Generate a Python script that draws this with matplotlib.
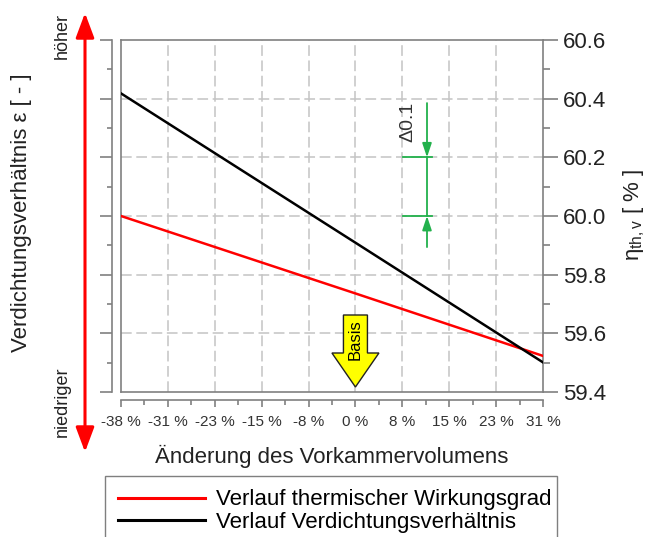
import numpy as np
import matplotlib
matplotlib.use("Agg")
import matplotlib.pyplot as plt
from matplotlib.patches import Polygon
from matplotlib import transforms
from matplotlib.ticker import MultipleLocator, FixedLocator, FormatStrFormatter

plt.rcParams['font.family'] = ['Liberation Sans', 'DejaVu Sans']
plt.rcParams['mathtext.fontset'] = 'custom'
plt.rcParams['mathtext.rm'] = 'Liberation Sans'
plt.rcParams['mathtext.it'] = 'Liberation Sans:italic'

# x axis: change of pre-chamber volume [%]
vol_ticks = [-38.46, -30.77, -23.08, -15.38, -7.69, 0.0, 7.69, 15.38, 23.08, 30.77]
vol_labels = ['-38 %', '-31 %', '-23 %', '-15 %', '-8 %', '0 %', '8 %', '15 %', '23 %', '31 %']

# series (sampled points)
vol_points = [-38.46, 0.0, 30.77]
eta_thermal = [60.00, 59.736, 59.523]      # thermal efficiency [%]
compression = [60.418, 59.909, 59.501]     # compression ratio trend (scaled to right axis)

series_labels = ['Verlauf thermischer Wirkungsgrad', 'Verlauf Verdichtungsverhältnis']

W, H = 648, 537
fig = plt.figure(figsize=(W / 100, H / 100), dpi=100)
rect = [121 / W, 1 - 392 / H, 422 / W, 352 / H]
ax = fig.add_axes(rect)

spine_c = '#808080'
text_c = '#222222'
grid_c = '#c4c4c4'

ax.set_xlim(vol_ticks[0], vol_ticks[-1])
ax.set_ylim(59.4, 60.6)

# grid
for xv in vol_ticks[1:-1]:
    ax.axvline(xv, color=grid_c, lw=1.1, dashes=(7, 3), zorder=1)
for yv in np.arange(59.6, 60.5, 0.2):
    ax.axhline(yv, color=grid_c, lw=1.1, dashes=(7, 3), zorder=1)

l1, = ax.plot(vol_points, eta_thermal, color='#ff0000', lw=1.8, zorder=3)
l2, = ax.plot(vol_points, compression, color='#000000', lw=1.8, zorder=3)

for s in ax.spines.values():
    s.set_color(spine_c)
    s.set_linewidth(1.2)

ax.yaxis.tick_right()
ax.yaxis.set_major_locator(MultipleLocator(0.2))
ax.yaxis.set_minor_locator(MultipleLocator(0.1))
ax.yaxis.set_major_formatter(FormatStrFormatter('%.1f'))
ax.tick_params(axis='y', which='major', direction='out', length=10.8, width=1.2,
               color=spine_c, labelsize=16, labelcolor=text_c, pad=3.5,
               left=False, right=True, labelleft=False, labelright=True)
ax.tick_params(axis='y', which='minor', direction='out', length=5, width=1.2,
               color=spine_c, left=False, right=True)
ax.tick_params(axis='x', which='both', bottom=False, labelbottom=False)

# detached left and bottom axes
ax2 = fig.add_axes(rect)
ax2.patch.set_visible(False)
ax2.set_xlim(vol_ticks[0], vol_ticks[-1])
ax2.set_ylim(59.4, 60.6)
ax2.spines['top'].set_visible(False)
ax2.spines['right'].set_visible(False)
ax2.spines['left'].set_position(('outward', 6.5))
ax2.spines['bottom'].set_position(('outward', 5.8))
for s in ('left', 'bottom'):
    ax2.spines[s].set_color(spine_c)
    ax2.spines[s].set_linewidth(1.2)
ax2.yaxis.set_major_locator(MultipleLocator(0.2))
ax2.yaxis.set_minor_locator(MultipleLocator(0.1))
ax2.tick_params(axis='y', which='major', direction='out', length=8.6, width=1.2,
                color=spine_c, labelleft=False)
ax2.tick_params(axis='y', which='minor', direction='out', length=3.6, width=1.2,
                color=spine_c)
ax2.xaxis.set_major_locator(FixedLocator(vol_ticks))
minor_x = [(a + b) / 2 for a, b in zip(vol_ticks[:-1], vol_ticks[1:])]
ax2.xaxis.set_minor_locator(FixedLocator(minor_x))
ax2.set_xticklabels(vol_labels, fontsize=11, color='#333333')
ax2.tick_params(axis='x', which='major', direction='out', length=5, width=1.2,
                color=spine_c, pad=6)
ax2.tick_params(axis='x', which='minor', direction='out', length=3.6, width=1.2,
                color=spine_c)

# axis titles
fig.text(22 / W, 1 - 213 / H, 'Verdichtungsverhältnis ε [ - ]', rotation=90,
         ha='center', va='center', fontsize=16, color=text_c)
fig.text(332 / W, 1 - 456 / H, 'Änderung des Vorkammervolumens',
         ha='center', va='center', fontsize=16, color=text_c)
fig.text(634 / W, 1 - 215 / H, r'$\mathregular{\eta_{th,v}}$ [ % ]', rotation=90,
         ha='center', va='center', fontsize=16, color=text_c)

# qualitative direction arrow for the compression ratio
ax.annotate('', xy=(85 / W, 1 - 13 / H), xytext=(85 / W, 1 - 452 / H),
            xycoords='figure fraction', textcoords='figure fraction',
            arrowprops=dict(arrowstyle='<|-|>,head_length=0.75,head_width=0.28',
                            color='#ff0000', lw=2.2, shrinkA=0, shrinkB=0,
                            mutation_scale=20), annotation_clip=False)
fig.text(62 / W, 1 - 36 / H, 'höher', rotation=90, ha='center', va='center',
         fontsize=13, color=text_c)
fig.text(62 / W, 1 - 402 / H, 'niedriger', rotation=90, ha='center', va='center',
         fontsize=13, color=text_c)

# reference marker at 0 % volume change
base_x = vol_ticks[5]
anchor = transforms.blended_transform_factory(ax.transData, ax.transAxes)
arrow_tf = fig.dpi_scale_trans + transforms.ScaledTranslation(base_x, 0, anchor)
arrow_pts = [(0, 0.05), (0.235, 0.39), (0.12, 0.39), (0.12, 0.77),
             (-0.12, 0.77), (-0.12, 0.39), (-0.235, 0.39)]
ax.add_patch(Polygon(arrow_pts, closed=True, transform=arrow_tf, facecolor='#ffff00',
                     edgecolor='#222222', lw=1.0, zorder=5, clip_on=False))
ax.annotate('Basis', xy=(base_x, 0), xycoords=anchor, xytext=(0, 37.4),
            textcoords='offset points', rotation=90, ha='center', va='center',
            fontsize=12, color='black', zorder=6)

# delta scale marker
green = '#22b14c'
dx = 11.74
lo, hi = 60.0, 60.2
ax.plot([dx, dx], [lo, hi], color=green, lw=1.3, zorder=4)
for yv in (lo, hi):
    ax.plot([7.8, 12.56], [yv, yv], color=green, lw=1.3, zorder=4)
ax.annotate('', xy=(dx, hi), xytext=(dx, 60.385),
            arrowprops=dict(arrowstyle='-|>,head_length=0.6,head_width=0.2',
                            color=green, lw=1.3, shrinkA=0, shrinkB=0, mutation_scale=14))
ax.annotate('', xy=(dx, lo), xytext=(dx, 59.894),
            arrowprops=dict(arrowstyle='-|>,head_length=0.6,head_width=0.2',
                            color=green, lw=1.3, shrinkA=0, shrinkB=0, mutation_scale=14))
ax.text(8.6, 60.32, 'Δ0.1', rotation=90, ha='center', va='center', fontsize=14,
        color='#333333')

leg = fig.legend([l1, l2], series_labels, loc='upper left',
                 bbox_to_anchor=(105 / W, 0, 452 / W, 1 - 476 / H), mode='expand',
                 borderaxespad=0, fontsize=16, handlelength=3.9, handletextpad=0.5,
                 labelspacing=0.08, borderpad=0.6, fancybox=False, framealpha=1)
leg.get_frame().set_edgecolor('#7f7f7f')
leg.get_frame().set_linewidth(1.0)
for line in leg.get_lines():
    line.set_linewidth(2.2)

fig.savefig('out.png', dpi=100)
